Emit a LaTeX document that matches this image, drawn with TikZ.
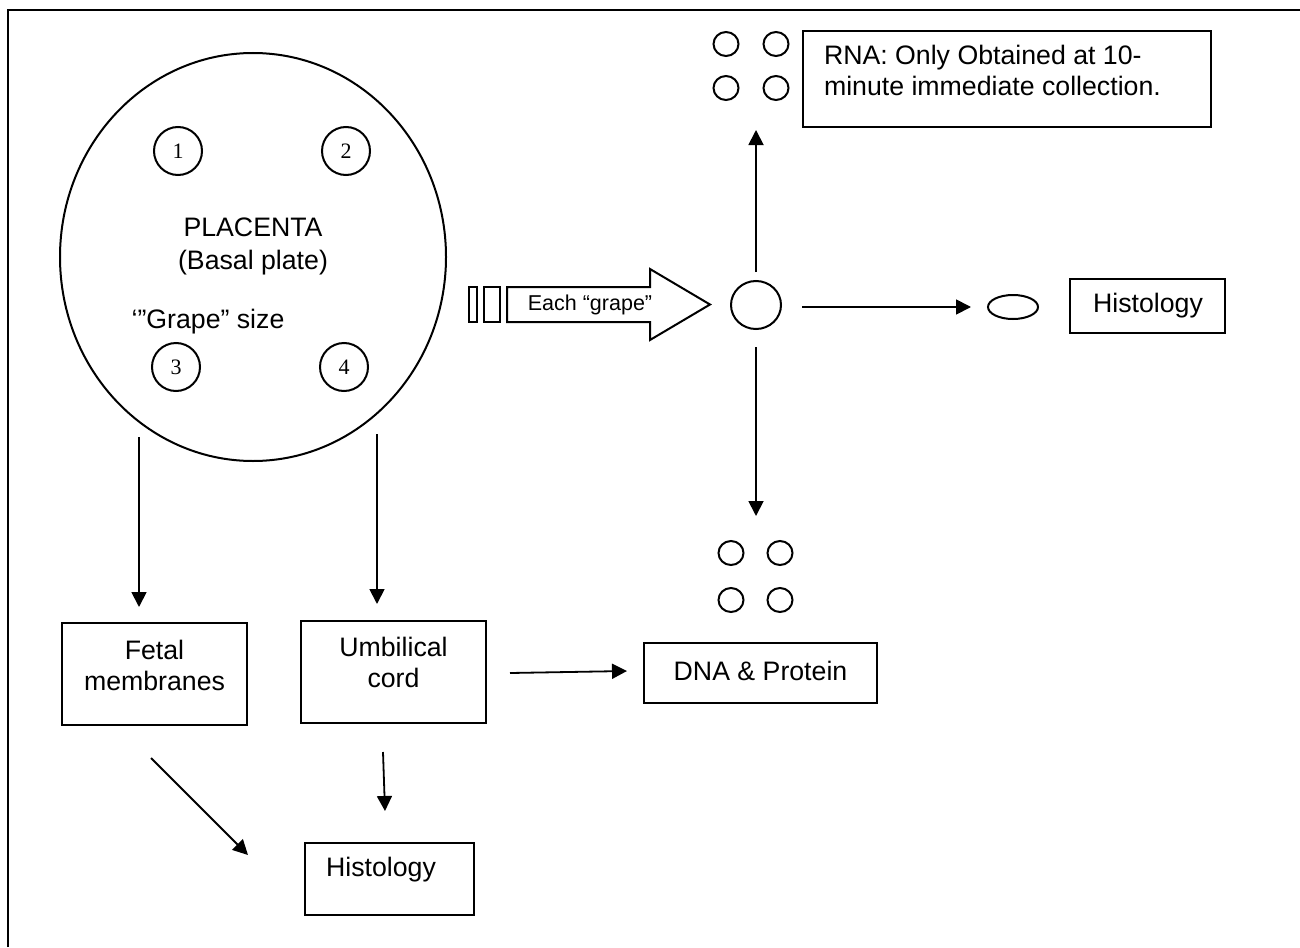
\documentclass[tikz,border=0pt]{standalone}
\usepackage{fontspec}
\setmainfont{Liberation Sans}
\newfontfamily\numfont{Liberation Serif}
\usetikzlibrary{arrows.meta,shapes.geometric}
\begin{document}
\begin{tikzpicture}[x=1pt,y=-1pt,
  line width=2pt,
  txt/.style={inner sep=0pt,font=\fontsize{26.7}{31}\selectfont,align=center},
  box/.style={draw,rectangle,inner sep=0pt},
  ring/.style={draw,ellipse,inner sep=0pt},
  num/.style={draw,circle,inner sep=0pt,minimum size=48pt,font=\numfont\fontsize{22}{26}\selectfont},
  dot/.style={draw,ellipse,inner sep=0pt,minimum width=25pt,minimum height=24pt},
  arr/.style={line width=1.8pt,-{Triangle[length=15pt,width=15pt]}}]
\useasboundingbox (0,0) rectangle (1300,947);
% frame
\draw[line width=2.4pt] (8,947) -- (8,10) -- (1300,10);
% placenta
\node[ring,minimum width=386pt,minimum height=408pt] (plac) at (253,257) {};
\node[num] (g1) at (178,151) {1};
\node[num] (g2) at (346,151) {2};
\node[num] (g3) at (176,367) {3};
\node[num] (g4) at (344,367) {4};
\node[txt,font=\fontsize{26.7}{33}\selectfont] (ptext) at (253,246) {PLACENTA\\(Basal plate)};
\node[txt] (gsize) at (208,322) {‘”Grape” size};
% big arrow
\draw (469,287) rectangle (477,322);
\draw (484,287) rectangle (500,322);
\draw (507,287) -- (650,287) -- (650,269) -- (710,304.5) -- (650,340) -- (650,322) -- (507,322) -- cycle;
\node[txt,font=\fontsize{21.5}{25}\selectfont] (each) at (590,305) {Each “grape”};
% centre grape
\node[ring,minimum width=50pt,minimum height=48pt] (c0) at (756,305) {};
% RNA
\node[dot] (r1) at (726,44) {};
\node[dot] (r2) at (776,44) {};
\node[dot] (r3) at (726,88) {};
\node[dot] (r4) at (776,88) {};
\node[box,minimum width=408pt,minimum height=96pt] (rna) at (1007,79) {};
\node[txt,align=left,anchor=north west] (rnatext) at (823,44) {RNA: Only Obtained at 10-\\minute immediate collection.};
\coordinate (upS) at (756,272);
\coordinate (upE) at (756,130);
\draw[arr] (upS) -- (upE);
% right histology
\coordinate (rS) at (802,307);
\coordinate (rE) at (971,307);
\draw[arr] (rS) -- (rE);
\node[ring,minimum width=50pt,minimum height=24pt] (slice) at (1013,307) {};
\node[box,minimum width=155pt,minimum height=54pt] (hist1) at (1147.5,306) {};
\node[txt] (hist1t) at (1148,306) {Histology};
% DNA
\coordinate (dS) at (756,347);
\coordinate (dE) at (756,516);
\draw[arr] (dS) -- (dE);
\node[dot] (d1) at (731,553) {};
\node[dot] (d2) at (780,553) {};
\node[dot] (d3) at (731,600) {};
\node[dot] (d4) at (780,600) {};
\node[box,minimum width=233pt,minimum height=60pt] (dna) at (760.5,673) {};
\node[txt] (dnat) at (760.5,671) {DNA \& Protein};
% fetal membranes / umbilical cord
\coordinate (fS) at (139,437);
\coordinate (fE) at (139,607);
\draw[arr] (fS) -- (fE);
\coordinate (uS) at (377,434);
\coordinate (uE) at (377,604);
\draw[arr] (uS) -- (uE);
\node[box,minimum width=185pt,minimum height=102pt] (fetal) at (154.5,674) {};
\node[txt] (fetalt) at (154.5,665) {Fetal\\membranes};
\node[box,minimum width=185pt,minimum height=102pt] (umb) at (393.5,672) {};
\node[txt] (umbt) at (393.5,662) {Umbilical\\cord};
\coordinate (udS) at (510,673);
\coordinate (udE) at (627,671);
\draw[arr] (udS) -- (udE);
% bottom histology
\coordinate (diS) at (151,758);
\coordinate (diE) at (248,855);
\draw[arr] (diS) -- (diE);
\coordinate (hdS) at (383,752);
\coordinate (hdE) at (385,811);
\draw[arr] (hdS) -- (hdE);
\node[box,minimum width=169pt,minimum height=72pt] (hist2) at (389.5,879) {};
\node[txt] (hist2t) at (381,870) {Histology};
\end{tikzpicture}
\end{document}
